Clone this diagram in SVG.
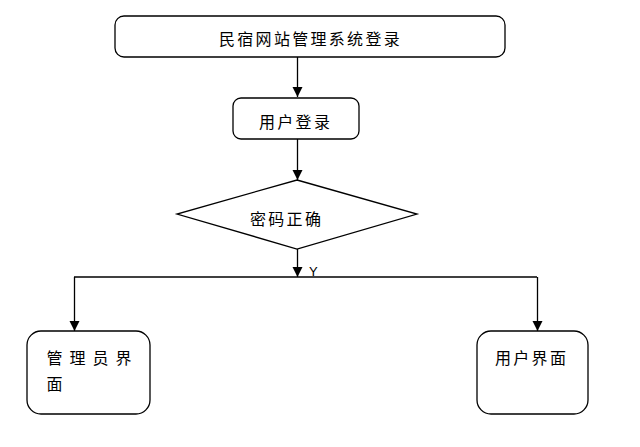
<svg xmlns="http://www.w3.org/2000/svg" width="640" height="447" viewBox="0 0 640 447">
<style>
.box{fill:#fff;stroke:#000;stroke-width:1.3}
.t{font-family:"Noto Sans CJK SC","Liberation Sans",sans-serif;font-size:16px;fill:#000;letter-spacing:2.3px}
.ln{fill:none;stroke:#000;stroke-width:1.3}
</style>
<defs>
<marker id="ah" markerWidth="10" markerHeight="12" refX="10" refY="5" orient="auto" markerUnits="userSpaceOnUse" viewBox="0 0 10 10">
<path d="M0,0 L10,5 L0,10 Z" fill="#000"/>
</marker>
</defs>
<rect width="640" height="447" fill="#fff"/>
<g id="connectors">
<line class="ln" x1="297.5" y1="57" x2="297.5" y2="97" marker-end="url(#ah)"/>
<line class="ln" x1="297.5" y1="139" x2="297.5" y2="180" marker-end="url(#ah)"/>
<line class="ln" x1="297.5" y1="249" x2="297.5" y2="277" marker-end="url(#ah)"/>
<polyline class="ln" points="537,277 74,277"/>
<line class="ln" x1="74.5" y1="277" x2="74.5" y2="331" marker-end="url(#ah)"/>
<line class="ln" x1="537.5" y1="277" x2="537.5" y2="331" marker-end="url(#ah)"/>
<text x="309" y="276" font-family="Liberation Sans, sans-serif" font-size="13">Y</text>
</g>
<g id="start">
<rect class="box" x="115" y="16" width="390" height="41" rx="9"/>
<text class="t" x="219" y="45">民宿网站管理系统登录</text>
</g>
<g id="login">
<rect class="box" x="233" y="98" width="126" height="41" rx="8"/>
<text class="t" x="259" y="128">用户登录</text>
</g>
<g id="check">
<polygon class="box" points="297,180 417,214 297,249 177,214"/>
<text class="t" x="250" y="225">密码正确</text>
</g>
<g id="admin">
<rect class="box" x="27" y="331" width="123" height="83" rx="14"/>
<text class="t" x="46.5" y="364" style="letter-spacing:7px">管理员界</text>
<text class="t" x="46.5" y="390">面</text>
</g>
<g id="user">
<rect class="box" x="477" y="331" width="111" height="83" rx="14"/>
<text class="t" x="495" y="364">用户界面</text>
</g>
</svg>
